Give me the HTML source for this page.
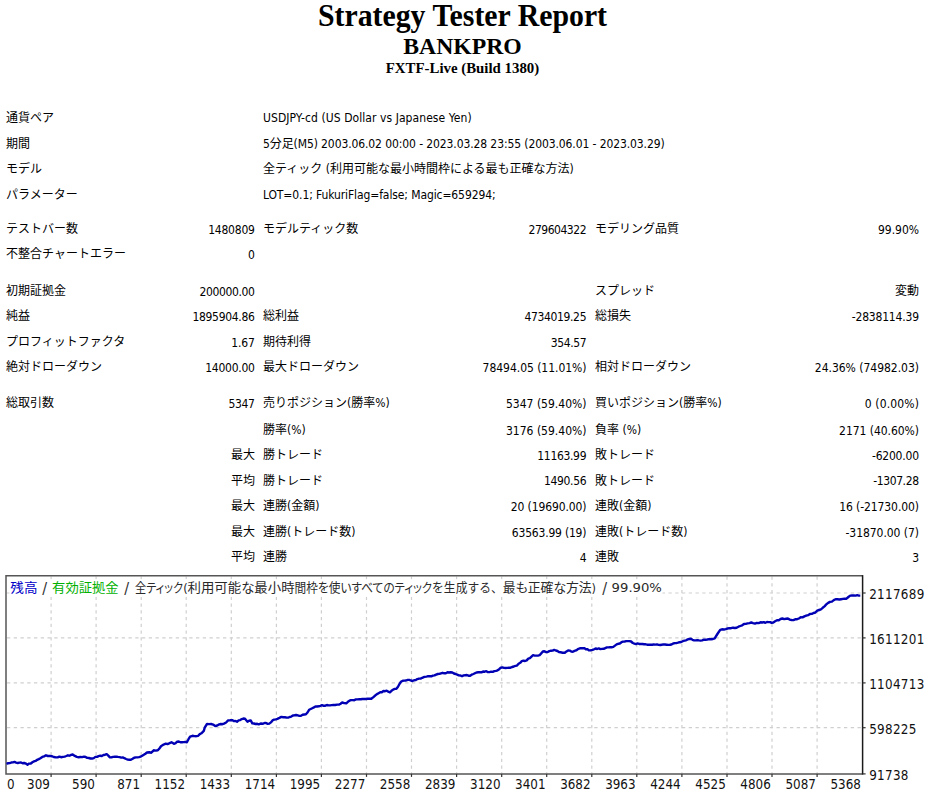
<!DOCTYPE html>
<html><head><meta charset="utf-8"><title>Strategy Tester: BANKPRO</title>
<style>
html,body{margin:0;padding:0;background:#fff;}
body{width:928px;height:799px;position:relative;overflow:hidden;color:#000;}
.t{position:absolute;left:0;width:925px;text-align:center;font-family:"Liberation Serif","Times New Roman",serif;font-weight:bold;white-space:nowrap;}
.t1{font-size:29.8px;top:-1.5px;line-height:34px;transform:scaleY(1.055);transform-origin:50% 27px;}
.t2{font-size:23.7px;top:31.5px;line-height:28px;}
.t3{font-size:14.85px;top:58.6px;line-height:18px;}
.r{position:absolute;left:0;width:928px;height:16px;line-height:16px;font-family:"DejaVu Sans Condensed","DejaVu Sans","Noto Sans CJK JP",sans-serif;font-size:12px;white-space:nowrap;}
.r span{position:absolute;top:0;}
.l1{left:6px;}
.v2{right:673.1px;}
.l3{left:263px;}
.v4{right:341.5px;}
.l5{left:595.1px;}
.v6{right:9px;}
.chart{position:absolute;left:0;top:560px;}
.g{stroke:#cfcfcf;stroke-width:1.2;stroke-dasharray:3.3 3.45;}
.sl{font-size:16px;}
.palt{font-feature-settings:"palt";}
.lg{font-family:"DejaVu Sans Condensed","Noto Sans CJK JP",sans-serif;font-size:12.7px;}
.ax{font-family:"DejaVu Sans Condensed","DejaVu Sans",sans-serif;font-size:13.3px;fill:#111;}
</style></head><body>
<div class="t t1">Strategy Tester Report</div>
<div class="t t2">BANKPRO</div>
<div class="t t3">FXTF-Live (Build 1380)</div>
<div class="r" style="top:110.40px"><span id="s0_0" class="l1">通貨ペア</span><span id="s0_1" class="l3" style="letter-spacing:0.069px">USDJPY-cd (US Dollar vs Japanese Yen)</span></div>
<div class="r" style="top:135.90px"><span id="s1_0" class="l1">期間</span><span id="s1_1" class="l3" style="letter-spacing:-0.101px">5分足(M5) 2003.06.02 00:00 - 2023.03.28 23:55 (2003.06.01 - 2023.03.29)</span></div>
<div class="r" style="top:161.40px"><span id="s2_0" class="l1">モデル</span><span id="s2_1" class="l3">全ティック (利用可能な最小時間枠による最も正確な方法)</span></div>
<div class="r" style="top:186.90px"><span id="s3_0" class="l1">パラメーター</span><span id="s3_1" class="l3" style="letter-spacing:-0.103px">LOT=0.1; FukuriFlag=false; Magic=659294;</span></div>
<div class="r" style="top:220.80px"><span id="s4_0" class="l1">テストバー数</span><span id="s4_1" class="v2" style="top:0.8px;letter-spacing:-0.217px;margin-right:0.217px">1480809</span><span id="s4_2" class="l3">モデルティック数</span><span id="s4_3" class="v4" style="top:0.8px;letter-spacing:-0.488px;margin-right:0.488px">279604322</span><span id="s4_4" class="l5">モデリング品質</span><span id="s4_5" class="v6" style="top:0.8px;letter-spacing:-0.020px;margin-right:0.020px">99.90%</span></div>
<div class="r" style="top:246.30px"><span id="s5_0" class="l1">不整合チャートエラー</span><span id="s5_1" class="v2" style="top:0.8px;letter-spacing:-0.300px;margin-right:0.300px">0</span></div>
<div class="r" style="top:282.80px"><span id="s6_0" class="l1">初期証拠金</span><span id="s6_1" class="v2" style="top:0.8px;letter-spacing:-0.362px;margin-right:0.362px">200000.00</span><span id="s6_2" class="l5">スプレッド</span><span id="s6_3" class="v6">変動</span></div>
<div class="r" style="top:308.30px"><span id="s7_0" class="l1">純益</span><span id="s7_1" class="v2" style="top:0.8px;letter-spacing:-0.300px;margin-right:0.300px">1895904.86</span><span id="s7_2" class="l3">総利益</span><span id="s7_3" class="v4" style="top:0.8px;letter-spacing:-0.356px;margin-right:0.356px">4734019.25</span><span id="s7_4" class="l5">総損失</span><span id="s7_5" class="v6" style="top:0.8px;letter-spacing:-0.190px;margin-right:0.190px">-2838114.39</span></div>
<div class="r" style="top:333.80px"><span id="s8_0" class="l1">プロフィットファクタ</span><span id="s8_1" class="v2" style="top:0.8px;letter-spacing:-0.133px;margin-right:0.133px">1.67</span><span id="s8_2" class="l3">期待利得</span><span id="s8_3" class="v4" style="top:0.8px;letter-spacing:-0.420px;margin-right:0.420px">354.57</span></div>
<div class="r" style="top:359.30px"><span id="s9_0" class="l1">絶対ドローダウン</span><span id="s9_1" class="v2" style="top:0.8px;letter-spacing:-0.265px;margin-right:0.265px">14000.00</span><span id="s9_2" class="l3">最大ドローダウン</span><span id="s9_3" class="v4" style="top:0.8px;letter-spacing:-0.038px;margin-right:0.038px">78494.05 (11.01%)</span><span id="s9_4" class="l5">相対ドローダウン</span><span id="s9_5" class="v6" style="top:0.8px;letter-spacing:-0.019px;margin-right:0.019px">24.36% (74982.03)</span></div>
<div class="r" style="top:395.30px"><span id="s10_0" class="l1">総取引数</span><span id="s10_1" class="v2" style="top:0.8px;letter-spacing:-0.384px;margin-right:0.384px">5347</span><span id="s10_2" class="l3">売りポジション(勝率%)</span><span id="s10_3" class="v4" style="top:0.8px;letter-spacing:0.001px;margin-right:-0.001px">5347 (59.40%)</span><span id="s10_4" class="l5">買いポジション(勝率%)</span><span id="s10_5" class="v6" style="top:0.8px;letter-spacing:0.161px;margin-right:-0.161px">0 (0.00%)</span></div>
<div class="r" style="top:421.80px"><span id="s11_0" class="l3">勝率(%)</span><span id="s11_1" class="v4" style="top:0.8px;letter-spacing:0.001px;margin-right:-0.001px">3176 (59.40%)</span><span id="s11_2" class="l5">負率 (%)</span><span id="s11_3" class="v6" style="top:0.8px;letter-spacing:-0.050px;margin-right:0.050px">2171 (40.60%)</span></div>
<div class="r" style="top:446.80px"><span id="s12_0" class="v2">最大</span><span id="s12_1" class="l3">勝トレード</span><span id="s12_2" class="v4" style="top:0.8px;letter-spacing:-0.328px;margin-right:0.328px">11163.99</span><span id="s12_3" class="l5">敗トレード</span><span id="s12_4" class="v6" style="top:0.8px;letter-spacing:-0.213px;margin-right:0.213px">-6200.00</span></div>
<div class="r" style="top:472.50px"><span id="s13_0" class="v2">平均</span><span id="s13_1" class="l3">勝トレード</span><span id="s13_2" class="v4" style="top:0.8px;letter-spacing:-0.367px;margin-right:0.367px">1490.56</span><span id="s13_3" class="l5">敗トレード</span><span id="s13_4" class="v6" style="top:0.8px;letter-spacing:-0.387px;margin-right:0.387px">-1307.28</span></div>
<div class="r" style="top:498.20px"><span id="s14_0" class="v2">最大</span><span id="s14_1" class="l3">連勝(金額)</span><span id="s14_2" class="v4" style="top:0.8px;letter-spacing:-0.117px;margin-right:0.117px">20 (19690.00)</span><span id="s14_3" class="l5">連敗(金額)</span><span id="s14_4" class="v6" style="top:0.8px;letter-spacing:-0.085px;margin-right:0.085px">16 (-21730.00)</span></div>
<div class="r" style="top:523.80px"><span id="s15_0" class="v2">最大</span><span id="s15_1" class="l3">連勝(トレード数)</span><span id="s15_2" class="v4" style="top:0.8px;letter-spacing:-0.200px;margin-right:0.200px">63563.99 (19)</span><span id="s15_3" class="l5">連敗(トレード数)</span><span id="s15_4" class="v6" style="top:0.8px;letter-spacing:-0.050px;margin-right:0.050px">-31870.00 (7)</span></div>
<div class="r" style="top:549.30px"><span id="s16_0" class="v2">平均</span><span id="s16_1" class="l3">連勝</span><span id="s16_2" class="v4" style="top:0.8px;letter-spacing:-0.300px;margin-right:0.300px">4</span><span id="s16_3" class="l5">連敗</span><span id="s16_4" class="v6" style="top:0.8px;letter-spacing:-0.300px;margin-right:0.300px">3</span></div>
<svg class="chart" width="928" height="239" viewBox="0 560 928 239">
<line x1="51.1" y1="576.5" x2="51.1" y2="773.4" class="g"/>
<line x1="96.1" y1="576.5" x2="96.1" y2="773.4" class="g"/>
<line x1="141.2" y1="576.5" x2="141.2" y2="773.4" class="g"/>
<line x1="186.2" y1="576.5" x2="186.2" y2="773.4" class="g"/>
<line x1="231.3" y1="576.5" x2="231.3" y2="773.4" class="g"/>
<line x1="276.4" y1="576.5" x2="276.4" y2="773.4" class="g"/>
<line x1="321.4" y1="576.5" x2="321.4" y2="773.4" class="g"/>
<line x1="366.5" y1="576.5" x2="366.5" y2="773.4" class="g"/>
<line x1="411.5" y1="576.5" x2="411.5" y2="773.4" class="g"/>
<line x1="456.6" y1="576.5" x2="456.6" y2="773.4" class="g"/>
<line x1="501.7" y1="576.5" x2="501.7" y2="773.4" class="g"/>
<line x1="546.7" y1="576.5" x2="546.7" y2="773.4" class="g"/>
<line x1="591.8" y1="576.5" x2="591.8" y2="773.4" class="g"/>
<line x1="636.8" y1="576.5" x2="636.8" y2="773.4" class="g"/>
<line x1="681.9" y1="576.5" x2="681.9" y2="773.4" class="g"/>
<line x1="727.0" y1="576.5" x2="727.0" y2="773.4" class="g"/>
<line x1="772.0" y1="576.5" x2="772.0" y2="773.4" class="g"/>
<line x1="817.1" y1="576.5" x2="817.1" y2="773.4" class="g"/>
<line x1="7" y1="593.0" x2="862.1" y2="593.0" class="g"/>
<line x1="7" y1="637.9" x2="862.1" y2="637.9" class="g"/>
<line x1="7" y1="682.9" x2="862.1" y2="682.9" class="g"/>
<line x1="7" y1="727.7" x2="862.1" y2="727.7" class="g"/>
<polyline points="862.6,773.9 6,773.9 6,575.8 862.6,575.8" fill="none" stroke="#555" stroke-width="1.5"/>
<line x1="862.6" y1="575.0999999999999" x2="862.6" y2="774.6" stroke="#1a1a1a" stroke-width="1.5"/>
<line x1="51.1" y1="773.9" x2="51.1" y2="776.9" stroke="#333" stroke-width="1.2"/>
<line x1="96.1" y1="773.9" x2="96.1" y2="776.9" stroke="#333" stroke-width="1.2"/>
<line x1="141.2" y1="773.9" x2="141.2" y2="776.9" stroke="#333" stroke-width="1.2"/>
<line x1="186.2" y1="773.9" x2="186.2" y2="776.9" stroke="#333" stroke-width="1.2"/>
<line x1="231.3" y1="773.9" x2="231.3" y2="776.9" stroke="#333" stroke-width="1.2"/>
<line x1="276.4" y1="773.9" x2="276.4" y2="776.9" stroke="#333" stroke-width="1.2"/>
<line x1="321.4" y1="773.9" x2="321.4" y2="776.9" stroke="#333" stroke-width="1.2"/>
<line x1="366.5" y1="773.9" x2="366.5" y2="776.9" stroke="#333" stroke-width="1.2"/>
<line x1="411.5" y1="773.9" x2="411.5" y2="776.9" stroke="#333" stroke-width="1.2"/>
<line x1="456.6" y1="773.9" x2="456.6" y2="776.9" stroke="#333" stroke-width="1.2"/>
<line x1="501.7" y1="773.9" x2="501.7" y2="776.9" stroke="#333" stroke-width="1.2"/>
<line x1="546.7" y1="773.9" x2="546.7" y2="776.9" stroke="#333" stroke-width="1.2"/>
<line x1="591.8" y1="773.9" x2="591.8" y2="776.9" stroke="#333" stroke-width="1.2"/>
<line x1="636.8" y1="773.9" x2="636.8" y2="776.9" stroke="#333" stroke-width="1.2"/>
<line x1="681.9" y1="773.9" x2="681.9" y2="776.9" stroke="#333" stroke-width="1.2"/>
<line x1="727.0" y1="773.9" x2="727.0" y2="776.9" stroke="#333" stroke-width="1.2"/>
<line x1="772.0" y1="773.9" x2="772.0" y2="776.9" stroke="#333" stroke-width="1.2"/>
<line x1="817.1" y1="773.9" x2="817.1" y2="776.9" stroke="#333" stroke-width="1.2"/>
<line x1="862.6" y1="593.0" x2="865.6" y2="593.0" stroke="#333" stroke-width="1.2"/>
<line x1="862.6" y1="637.9" x2="865.6" y2="637.9" stroke="#333" stroke-width="1.2"/>
<line x1="862.6" y1="682.9" x2="865.6" y2="682.9" stroke="#333" stroke-width="1.2"/>
<line x1="862.6" y1="727.7" x2="865.6" y2="727.7" stroke="#333" stroke-width="1.2"/>
<line x1="862.6" y1="773.9" x2="865.6" y2="773.9" stroke="#333" stroke-width="1.2"/>
<polyline points="6.5,763.8 8.1,763.2 9.7,763.1 11.3,762.5 12.9,762.4 14.5,761.9 16.1,762.6 17.8,763.0 19.4,762.6 21.0,762.5 22.6,763.3 24.2,763.0 25.9,763.6 27.5,764.7 29.1,763.6 30.8,763.5 32.4,762.2 34.0,761.4 35.6,760.9 37.2,759.8 38.8,759.1 40.4,758.2 42.3,756.9 44.1,756.4 46.0,755.3 47.9,756.0 49.8,755.9 51.7,756.2 53.8,757.0 55.8,757.4 57.6,757.4 59.4,756.6 61.1,757.2 62.9,756.9 64.7,756.6 66.3,756.0 67.9,755.3 69.5,755.7 71.1,754.9 72.7,754.5 74.8,755.9 76.8,756.9 78.6,757.2 80.4,757.0 82.2,757.1 84.0,756.6 85.6,757.0 87.2,757.9 88.9,758.0 90.5,758.5 92.1,758.5 93.8,758.1 95.4,756.9 97.0,756.9 98.6,756.1 100.2,755.7 101.8,756.0 103.5,755.0 105.1,754.7 106.7,754.1 108.3,755.6 109.9,757.4 111.5,757.2 113.2,756.9 114.8,756.7 116.4,756.6 118.0,756.9 119.6,757.1 121.2,757.6 122.8,757.4 124.4,758.2 126.1,759.0 127.7,759.6 129.3,759.8 130.9,759.7 132.6,758.8 134.2,757.7 135.8,757.4 137.4,757.4 139.0,757.1 140.6,756.6 142.2,755.8 143.8,754.8 145.4,753.8 147.0,752.5 149.2,752.3 151.3,752.7 153.7,750.3 155.8,750.6 157.8,750.3 159.4,748.4 161.0,746.3 162.6,745.1 164.2,744.3 165.8,743.6 167.5,744.1 169.1,743.4 171.5,742.2 174.0,743.8 175.6,743.2 177.2,741.7 178.8,741.5 180.4,742.3 182.0,742.2 183.6,742.1 185.3,741.9 186.9,742.2 188.5,739.2 190.1,736.6 192.5,735.8 194.4,736.1 196.3,736.2 198.2,735.8 199.8,734.1 201.4,733.3 203.8,730.9 204.7,727.7 207.0,724.0 209.1,724.1 211.1,724.0 213.1,724.6 215.2,726.1 217.2,725.5 219.2,724.4 220.8,724.0 222.4,724.2 224.0,723.6 226.1,722.5 228.1,720.4 230.1,720.3 232.1,720.1 233.7,721.1 235.4,721.0 237.0,721.7 238.6,720.4 240.2,720.1 241.8,719.1 243.4,718.5 245.0,718.8 247.5,721.7 249.1,720.7 250.7,720.4 252.3,723.3 253.9,723.5 255.6,724.0 257.2,723.8 258.8,724.4 260.7,723.5 262.6,723.8 264.5,723.0 266.1,723.0 267.7,723.9 269.3,723.6 270.9,722.4 272.5,720.4 274.1,719.7 275.8,719.3 277.4,718.8 279.4,717.9 281.4,716.9 283.1,717.2 284.8,717.3 286.4,717.5 288.1,717.6 289.7,717.0 291.3,716.6 292.9,715.5 294.5,715.3 296.2,715.0 297.8,715.4 299.4,715.9 301.0,715.7 302.6,714.8 304.3,714.5 305.9,714.3 307.5,712.5 309.1,709.8 310.7,709.0 312.3,708.2 313.9,707.4 315.5,706.5 317.1,706.5 318.8,706.3 320.4,705.8 322.0,705.2 323.6,705.8 325.3,705.7 326.9,705.0 328.5,705.4 330.1,705.4 331.7,705.1 333.3,705.0 335.2,705.0 337.1,704.6 339.0,704.6 340.6,703.8 342.2,702.5 344.2,703.1 346.3,703.3 347.9,701.8 349.5,700.7 351.1,700.1 352.7,700.1 354.3,700.2 356.0,699.4 357.6,699.4 359.2,699.3 360.8,699.3 362.4,699.0 364.1,698.9 365.7,699.0 367.6,698.7 369.4,698.7 371.3,698.8 373.4,697.1 375.4,695.3 377.0,694.1 378.6,693.2 380.2,692.3 381.8,692.2 383.4,691.0 385.1,691.2 386.7,690.7 388.3,691.7 389.9,692.3 391.5,690.8 393.1,689.6 394.8,688.9 396.4,688.8 398.0,686.7 399.6,683.7 401.2,681.5 402.8,680.8 404.4,680.6 406.1,680.5 407.7,679.9 409.3,679.9 410.9,680.5 412.5,681.0 414.1,680.2 415.8,680.1 417.4,679.1 419.0,678.6 420.6,678.6 422.2,677.8 424.4,676.9 426.5,676.6 428.1,676.2 429.7,676.3 431.3,676.3 432.9,675.6 434.5,675.4 436.1,674.6 437.8,674.0 439.4,673.9 441.0,673.3 442.6,672.8 444.2,673.3 445.9,673.2 447.5,672.3 449.1,672.5 450.7,672.3 452.3,672.5 453.9,673.5 455.6,674.0 457.2,674.6 458.8,675.4 460.4,675.5 462.0,676.2 463.6,675.4 465.3,675.2 466.9,675.0 468.5,675.7 470.1,675.8 471.7,674.7 473.4,674.0 475.0,673.2 476.6,672.5 478.2,672.3 479.8,672.1 481.5,672.4 483.1,671.5 484.7,671.7 486.3,671.2 487.9,672.1 489.5,672.1 491.1,671.7 492.7,671.9 494.4,671.1 496.0,670.9 497.6,670.3 499.2,669.2 500.8,667.7 502.4,667.4 504.0,667.9 505.6,668.0 507.3,667.9 508.9,667.7 510.5,667.7 512.1,667.0 513.8,666.5 515.4,665.9 517.0,665.6 518.6,663.7 520.2,662.8 521.8,661.2 523.4,660.7 525.1,661.0 526.7,660.4 528.3,658.6 529.9,658.2 531.5,656.7 533.1,655.2 534.7,655.6 536.4,655.6 538.0,655.6 539.6,655.2 541.2,653.4 542.8,651.5 544.4,651.2 546.1,652.1 547.7,652.0 549.3,651.1 551.0,650.7 552.6,650.6 554.2,649.9 555.8,650.5 557.4,651.0 559.0,652.1 560.6,652.3 562.7,652.7 564.8,652.8 566.5,651.4 568.1,650.4 569.7,650.6 571.3,651.6 572.9,651.7 574.5,650.9 576.1,650.4 577.8,649.2 579.4,648.5 581.0,648.1 582.6,648.3 584.2,648.1 585.8,649.2 587.5,649.3 589.1,650.4 590.7,650.2 592.4,649.9 594.0,649.3 595.6,648.5 597.2,649.0 598.8,648.4 600.4,649.1 602.0,648.9 603.7,648.8 605.3,648.1 606.9,647.4 608.5,647.4 610.1,647.1 611.7,647.2 613.3,646.9 615.0,645.6 616.6,644.4 618.2,643.8 619.8,643.5 621.5,642.2 623.1,641.6 624.7,641.5 626.3,641.1 627.9,641.1 629.5,641.1 631.1,641.5 632.8,643.0 634.4,643.6 636.0,644.1 637.6,643.4 639.2,644.0 640.8,643.9 642.4,644.0 644.0,644.3 645.6,644.3 647.2,644.7 648.9,644.8 650.5,644.8 652.1,644.7 653.7,644.5 655.4,644.6 657.0,644.4 658.6,644.9 660.2,645.0 661.8,644.7 663.4,644.4 665.0,644.5 666.7,644.7 668.3,644.9 669.9,644.8 671.5,644.5 673.2,643.5 674.8,643.1 676.4,643.1 678.0,642.7 679.6,642.2 681.2,642.0 682.8,641.2 684.5,640.7 686.1,640.3 687.7,639.4 689.3,639.0 690.9,638.8 692.5,639.8 694.2,640.4 695.8,640.4 697.4,640.1 699.0,640.4 700.6,640.6 702.2,640.4 703.9,639.7 705.6,639.7 707.3,639.5 709.1,639.1 711.0,639.3 712.9,639.0 714.7,638.3 717.4,634.0 720.2,629.8 722.0,629.3 723.9,629.5 725.7,629.1 727.5,628.5 729.3,628.1 731.1,628.2 733.0,627.7 734.8,628.0 736.6,627.7 738.5,626.7 740.3,626.0 742.2,625.3 744.0,624.0 745.8,623.9 747.6,623.4 749.5,623.1 751.3,622.5 753.1,623.1 755.0,623.6 756.8,622.9 758.6,623.1 760.5,622.3 762.3,622.5 763.9,622.1 765.4,622.8 767.0,622.0 768.6,622.1 770.2,622.1 771.7,622.9 773.3,622.5 775.1,621.3 777.0,620.3 778.8,620.2 780.6,619.0 782.4,618.5 784.2,619.1 786.1,618.8 787.9,618.5 789.8,619.6 791.6,620.0 793.4,620.1 795.2,619.3 797.1,619.2 798.9,618.5 800.7,617.3 802.5,617.4 804.4,616.4 806.2,615.7 808.1,615.2 809.9,614.0 811.8,613.9 813.6,613.0 815.4,612.5 817.2,610.7 819.1,610.0 820.9,609.3 822.7,607.8 824.5,606.4 826.4,604.2 828.2,602.9 830.0,601.9 831.9,601.6 833.8,600.1 835.6,599.2 837.4,599.3 839.3,599.5 841.1,599.2 842.9,598.9 844.7,598.7 846.5,598.7 848.4,597.0 850.2,595.6 852.0,595.5 853.9,595.5 855.7,595.6 857.2,595.2 858.8,595.6 860.3,595.6" fill="none" stroke="#0000b4" stroke-width="2.4" stroke-linejoin="round"/>
<rect x="9.5" y="579.2" width="653" height="17.6" fill="#fff"/>
<g class="lg">
<text x="10.3" y="592.4" fill="#0000c8" textLength="27.2" lengthAdjust="spacingAndGlyphs">残高</text>
<text x="42.2" y="593.5" fill="#333" class="sl">/</text>
<text x="52.1" y="592.4" fill="#00b000" textLength="66.6" lengthAdjust="spacingAndGlyphs">有効証拠金</text>
<text x="124.3" y="593.5" fill="#333" class="sl">/</text>
<text x="135.0" y="592.4" fill="#2a2a2a" class="palt" textLength="48.0" lengthAdjust="spacingAndGlyphs">全ティック</text>
<text x="183.2" y="592.4" fill="#2a2a2a">(</text>
<text x="187.5" y="592.4" fill="#2a2a2a" class="palt" textLength="107.1" lengthAdjust="spacingAndGlyphs">利用可能な最小時</text>
<text x="294.6" y="592.4" fill="#2a2a2a" class="palt" textLength="100.0" lengthAdjust="spacingAndGlyphs">間枠を使いすべての</text>
<text x="394.6" y="592.4" fill="#2a2a2a" class="palt" textLength="37.5" lengthAdjust="spacingAndGlyphs">ティック</text>
<text x="432.1" y="592.4" fill="#2a2a2a" textLength="70.6" lengthAdjust="spacingAndGlyphs">を生成する、</text>
<text x="502.7" y="592.4" fill="#2a2a2a" class="palt" textLength="89.0" lengthAdjust="spacingAndGlyphs">最も正確な方法</text>
<text x="591.6" y="592.4" fill="#2a2a2a">)</text>
<text x="602.3" y="593.5" fill="#333" class="sl">/</text>
<text x="611.6" y="592.4" fill="#2a2a2a" textLength="50.3" lengthAdjust="spacingAndGlyphs">99.90%</text>
</g>
<text x="7" y="789" class="ax">0</text>
<text x="49.9" y="789" class="ax" text-anchor="end">309</text>
<text x="94.9" y="789" class="ax" text-anchor="end">590</text>
<text x="140.0" y="789" class="ax" text-anchor="end">871</text>
<text x="185.0" y="789" class="ax" text-anchor="end">1152</text>
<text x="230.1" y="789" class="ax" text-anchor="end">1433</text>
<text x="275.2" y="789" class="ax" text-anchor="end">1714</text>
<text x="320.2" y="789" class="ax" text-anchor="end">1995</text>
<text x="365.3" y="789" class="ax" text-anchor="end">2277</text>
<text x="410.3" y="789" class="ax" text-anchor="end">2558</text>
<text x="455.4" y="789" class="ax" text-anchor="end">2839</text>
<text x="500.5" y="789" class="ax" text-anchor="end">3120</text>
<text x="545.5" y="789" class="ax" text-anchor="end">3401</text>
<text x="590.6" y="789" class="ax" text-anchor="end">3682</text>
<text x="635.6" y="789" class="ax" text-anchor="end">3963</text>
<text x="680.7" y="789" class="ax" text-anchor="end">4244</text>
<text x="725.8" y="789" class="ax" text-anchor="end">4525</text>
<text x="770.8" y="789" class="ax" text-anchor="end">4806</text>
<text x="815.9" y="789" class="ax" text-anchor="end">5087</text>
<text x="860.9" y="789" class="ax" text-anchor="end">5368</text>
<text x="869.2" y="599.0" class="ax" letter-spacing="0.3">2117689</text>
<text x="869.2" y="643.9" class="ax" letter-spacing="0.3">1611201</text>
<text x="869.2" y="688.9" class="ax" letter-spacing="0.3">1104713</text>
<text x="869.2" y="733.7" class="ax" letter-spacing="0.3">598225</text>
<text x="869.2" y="779.9" class="ax" letter-spacing="0.3">91738</text>
</svg>
</body></html>
